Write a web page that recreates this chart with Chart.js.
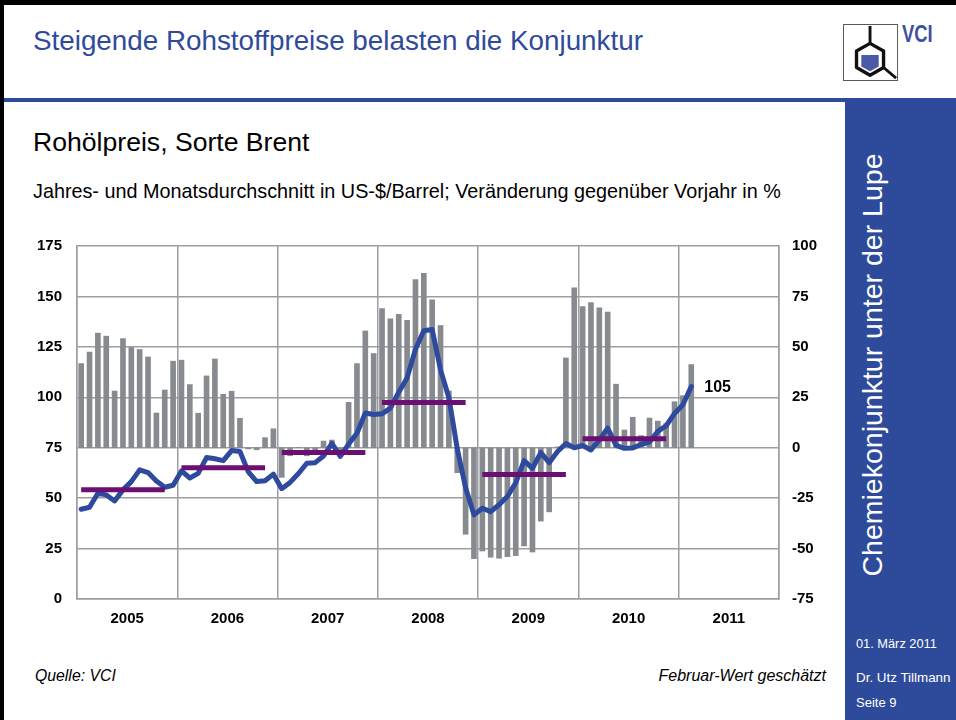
<!DOCTYPE html>
<html><head><meta charset="utf-8">
<script src="https://cdn.jsdelivr.net/npm/chart.js@4.4.1/dist/chart.umd.min.js"></script>
<style>
html,body{margin:0;padding:0;background:#fff;}
body{width:956px;height:720px;position:relative;overflow:hidden;font-family:"Liberation Sans",Arial,sans-serif;}
.abs{position:absolute;white-space:nowrap;}
</style></head><body>
<div class="abs" style="left:0;top:0;width:956px;height:5px;background:#000"></div>
<div class="abs" style="left:0;top:0;width:4px;height:720px;background:#000"></div>
<div class="abs" style="left:4px;top:98px;width:841px;height:4px;background:#2e4b9b"></div>
<div class="abs" style="left:845px;top:98px;width:111px;height:622px;background:#2e4b9b"></div>

<div class="abs" style="left:33px;top:25px;font-size:27.8px;line-height:32px;color:#2f4a9c">Steigende Rohstoffpreise belasten die Konjunktur</div>
<div class="abs" style="left:33px;top:127px;font-size:26.6px;line-height:30px;color:#000">Rohölpreis, Sorte Brent</div>
<div class="abs" style="left:33px;top:179px;font-size:19.8px;line-height:24px;color:#000">Jahres- und Monatsdurchschnitt in US-$/Barrel; Veränderung gegenüber Vorjahr in %</div>

<svg class="abs" style="left:843px;top:23px" width="56" height="60" viewBox="0 0 58 60">
  <rect x="0.5" y="0.5" width="56" height="58" fill="#fff" stroke="#555" stroke-width="1"/>
  <line x1="28" y1="2" x2="28" y2="20" stroke="#111" stroke-width="3"/>
  <polygon points="28,20 42,28 42,45 28,53 14,45 14,28" fill="#fff" stroke="#111" stroke-width="3.5" stroke-linejoin="round"/>
  <polygon points="19,32 37,32 37,44 28,49 19,44" fill="#4a5aa8"/>
  <line x1="42" y1="45" x2="55" y2="56" stroke="#111" stroke-width="3"/>
</svg>
<div class="abs" style="left:902px;top:22px;font-size:23px;line-height:24px;font-weight:bold;color:#3d4fa0;transform:scaleX(0.8);transform-origin:left top">VCI</div>

<div class="abs" style="left:622px;top:349px;width:500px;height:32px;line-height:32px;text-align:center;font-size:28.5px;color:#fff;transform:rotate(-90deg);transform-origin:250px 16px">Chemiekonjunktur unter der Lupe</div>
<div class="abs" style="left:856px;top:636px;font-size:12.8px;line-height:16px;color:#fff">01. März 2011</div>
<div class="abs" style="left:856px;top:670px;font-size:13.4px;line-height:16px;color:#fff">Dr. Utz Tillmann</div>
<div class="abs" style="left:856px;top:695px;font-size:13px;line-height:16px;color:#fff">Seite 9</div>

<div class="abs" style="left:35px;top:666px;font-size:15.8px;line-height:20px;font-style:italic;color:#000">Quelle: VCI</div>
<div class="abs" style="right:130px;top:666px;font-size:16px;line-height:20px;font-style:italic;color:#000">Februar-Wert geschätzt</div>

<div class="abs" style="left:0;top:222px;width:845px;height:418px"><canvas id="c" width="845" height="418"></canvas></div>

<script>
const years = ['2005','2006','2007','2008','2009','2010','2011'];
const leftTicks = [0,25,50,75,100,125,150,175];
const rightTicks = [-75,-50,-25,0,25,50,75,100];
// monthly Brent price, US-$/barrel, Jan 2005 - Feb 2011
const price = [
  44.5,45.5,52.4,51.6,48.6,54.1,58.2,64.0,62.7,58.5,55.4,56.4,
  63.5,60.0,62.3,70.1,69.5,68.6,73.6,73.1,63.0,58.2,58.6,61.9,
  54.7,57.8,62.2,67.3,67.6,70.9,77.2,70.7,76.8,82.2,92.2,91.5,
  91.8,94.6,102.5,109.6,123.8,133.0,133.6,113.6,99.8,74.5,55.2,41.7,
  45.0,43.3,46.7,50.8,57.6,68.6,64.8,72.6,67.6,73.1,77.1,75.0,
  76.1,73.9,78.9,84.7,76.2,74.7,74.9,76.6,77.8,83.1,85.9,92.0,
  96.3,105.3
];
// change vs. previous year, %
const change = [
  41.7,47.4,56.8,55.3,28.1,54.1,49.7,48.7,45.0,17.2,28.6,42.9,
  43.4,31.3,17.1,35.6,44.0,26.5,28.0,14.6,-0.6,-1.0,5.0,9.4,
  -14.7,-4.0,0.2,-4.0,-3.3,3.3,3.8,-3.3,22.5,41.7,57.9,46.7,
  69.0,63.9,66.1,63.2,83.4,86.4,73.3,60.6,28.1,-12.4,-42.9,-55.0,
  -51.2,-54.3,-54.8,-54.0,-53.5,-48.7,-51.7,-36.4,-31.8,0.4,44.5,79.3,
  70.0,71.9,69.4,67.2,31.5,8.8,15.1,6.0,14.7,13.2,12.0,22.8,
  25.8,41.2
];
// annual averages, US-$/barrel
const annualYears = ['2005','2006','2007','2008','2009','2010'];
const annualAvg = [54.2,65.1,72.6,97.4,61.7,79.4];

const priceData = price.map((v,i)=>({x:i+0.5,y:v}));
const changeData = change.map((v,i)=>({x:i+0.5,y:v}));
const avgData = [];
annualAvg.forEach((v,k)=>{
  const yi = years.indexOf(annualYears[k]);
  avgData.push({x:yi*12+0.5,y:v},{x:yi*12+10.5,y:v},{x:yi*12+11.5,y:null});
});

const FONT = '"Liberation Sans", Arial, sans-serif';
const GRID = '#9c9ea2';

const lastLabel = {
  id:'lastLabel',
  afterDatasetsDraw(chart){
    const meta = chart.getDatasetMeta(1);
    const pt = meta.data[meta.data.length-1];
    const ctx = chart.ctx;
    ctx.save();
    ctx.font = 'bold 16px ' + FONT;
    ctx.fillStyle = '#000';
    ctx.textBaseline = 'middle';
    ctx.textAlign = 'left';
    ctx.fillText(String(Math.round(price[price.length-1])), pt.x + 13, pt.y + 1);
    ctx.restore();
  }
};

new Chart(document.getElementById('c'), {
  data:{
    datasets:[
      {type:'bar', data:changeData, yAxisID:'y2', xAxisID:'x', backgroundColor:'#878b90', barThickness:5, order:3},
      {type:'line', data:priceData, yAxisID:'y', xAxisID:'x', borderColor:'#2e4a9e', borderWidth:5, pointRadius:0, tension:0, borderJoinStyle:'round', borderCapStyle:'round', order:2},
      {type:'line', data:avgData, yAxisID:'y', xAxisID:'x', borderColor:'#6b0f72', borderWidth:5, pointRadius:0, spanGaps:false, borderCapStyle:'butt', order:1}
    ]
  },
  options:{
    responsive:false, animation:false,
    layout:{padding:{top:8,left:0,right:0,bottom:0}},
    plugins:{legend:{display:false}, tooltip:{enabled:false}},
    scales:{
      x:{type:'linear', min:0, max:84, position:'bottom', offset:false,
        afterBuildTicks(s){ const t=[]; for(let v=0; v<=84; v+=6) t.push({value:v}); s.ticks=t; },
        afterFit(s){ s.height = 41; },
        grid:{offset:false, drawTicks:false, lineWidth:1.5, color:(c)=> (c.tick && c.tick.value % 12 === 0) ? GRID : 'rgba(0,0,0,0)'},
        border:{color:GRID, width:1.5},
        ticks:{autoSkip:false, maxRotation:0, padding:11, color:'#000', font:{family:FONT, size:15, weight:'bold'},
          callback:(v)=> (v % 12 === 6) ? years[(v-6)/12] : ''}
      },
      y:{type:'linear', position:'left', min:0, max:175,
        afterBuildTicks(s){ s.ticks = leftTicks.map(v=>({value:v})); },
        afterFit(s){ s.width = 77; },
        grid:{drawTicks:false, lineWidth:1.5, color:GRID},
        border:{color:GRID, width:1.5},
        ticks:{padding:15, color:'#000', font:{family:FONT, size:15, weight:'bold'}}
      },
      y2:{type:'linear', position:'right', min:-75, max:100,
        afterBuildTicks(s){ s.ticks = rightTicks.map(v=>({value:v})); },
        afterFit(s){ s.width = 66; },
        grid:{display:false, drawTicks:false},
        border:{color:GRID, width:1.5},
        ticks:{padding:13, color:'#000', font:{family:FONT, size:15, weight:'bold'}}
      }
    }
  },
  plugins:[lastLabel]
});
</script>
</body></html>
